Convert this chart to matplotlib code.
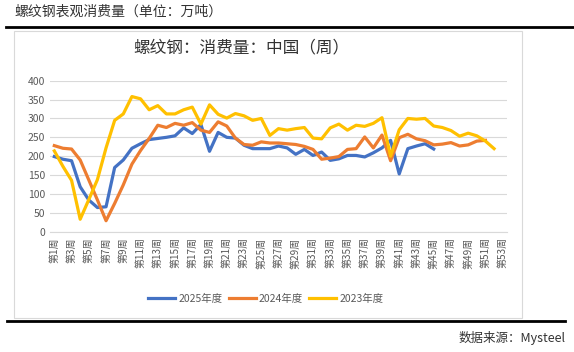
import matplotlib
matplotlib.use("Agg")
from matplotlib import pyplot as plt
from matplotlib.lines import Line2D
from matplotlib.patches import Rectangle

plt.rcParams['font.family'] = ['Noto Sans CJK SC', 'DejaVu Sans']

weeks = ["第{}周".format(i) for i in range(1, 54)]

y2025 = [199, 192, 188, 119, 84, 64, 66, 170, 190, 221, 233, 244, 247, 250, 254,
         275, 260, 284, 213, 263, 250, 248, 229, 220, 220, 220, 227, 222, 205, 218,
         202, 211, 189, 193, 202, 202, 198, 209, 222, 242, 153, 220, 227, 233, 219]
y2024 = [228, 221, 219, 190, 137, 84, 29, 75, 124, 179, 215, 247, 282, 276, 287,
         282, 289, 269, 263, 291, 280, 248, 231, 229, 238, 235, 235, 233, 231, 226,
         218, 192, 195, 199, 218, 220, 251, 222, 256, 188, 249, 258, 246, 241, 230,
         232, 236, 227, 230, 240, 242]
y2023 = [214, 173, 136, 33, 85, 138, 222, 295, 312, 358, 352, 323, 334, 312, 312,
         323, 330, 285, 336, 311, 301, 313, 307, 295, 300, 255, 273, 269, 273, 276,
         248, 246, 275, 285, 269, 282, 279, 287, 302, 200, 270, 300, 298, 300, 280,
         276, 268, 253, 261, 254, 240, 220]

series = [("2025年度", y2025, "#4472C4"),
          ("2024年度", y2024, "#ED7D31"),
          ("2023年度", y2023, "#FFC000")]

fig = plt.figure(figsize=(5.74, 3.52), dpi=100)
W, H = 574, 352

# header text and rules
fig.text(14 / W, 1 - 12 / H, "螺纹钢表观消费量（单位：万吨）", fontsize=10,
         color="#333333", ha="left", va="center")
fig.add_artist(Line2D([6 / W, 1], [1 - 27 / H] * 2, color="black", lw=2))
fig.add_artist(Line2D([7 / W, 565 / W], [1 - 320.5 / H] * 2, color="black", lw=2))
fig.add_artist(Rectangle((14 / W, 1 - 318 / H), (522 - 14) / W, (318 - 31) / H,
                         fill=False, edgecolor="#D9D9D9", lw=0.8))
fig.text(566 / W, 1 - 338 / H, "数据来源：Mysteel", fontsize=9,
         color="#333333", ha="right", va="center")

# chart
fig.text(241 / W, 1 - 48 / H, "螺纹钢：消费量：中国（周）", fontsize=12,
         color="#333333", ha="center", va="center")

ax = fig.add_axes([50 / W, 1 - 231.7 / H, (507 - 50) / W, (231.7 - 80.7) / H])
x = list(range(len(weeks)))
for name, vals, col in series:
    ax.plot(x[:len(vals)], vals, color=col, lw=2.3, label=name,
            solid_joinstyle="round")

ax.set_xlim(-0.5, len(weeks) - 0.5)
ax.set_ylim(0, 400)
ax.set_yticks(range(0, 401, 50))
ax.yaxis.grid(True, color="#D9D9D9", lw=0.8)
ax.set_axisbelow(True)
for s in ["top", "right", "left"]:
    ax.spines[s].set_visible(False)
ax.spines["bottom"].set_color("#D9D9D9")
ax.set_xticks(x[::2])
ax.set_xticklabels(weeks[::2], rotation=90, color="#595959")
ax.tick_params(axis="both", length=0, labelsize=7.5, colors="#595959")
ax.tick_params(axis="x", labelsize=7.2, pad=4)

ax.legend(loc="center", bbox_to_anchor=(266 / W, 1 - 299 / H),
          bbox_transform=fig.transFigure, ncol=3, frameon=False,
          fontsize=7.5, labelcolor="#595959", handlelength=2.6,
          columnspacing=0.6, handletextpad=0.3)

fig.savefig("out.png", dpi=100)
